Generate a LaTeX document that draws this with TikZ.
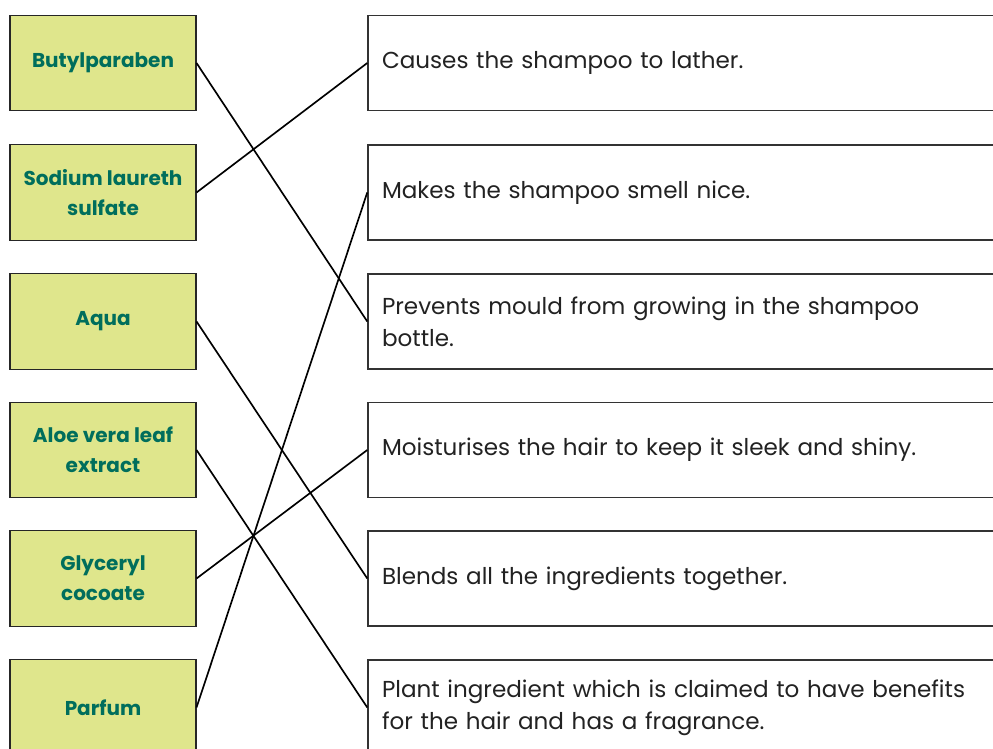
\documentclass[tikz,border=0pt]{standalone}
\usepackage{fontspec}
\setmainfont{Poppins}
\definecolor{lfill}{RGB}{223,230,140}
\definecolor{ltext}{RGB}{0,110,92}
\definecolor{rtext}{RGB}{34,34,34}
\begin{document}
\begin{tikzpicture}[x=0.75pt,y=-0.75pt,
  lbox/.style={draw=black!85, line width=0.8pt, fill=lfill, rectangle,
    minimum width=139.5pt, minimum height=71.5pt, inner sep=2pt,
    text=ltext, align=center, font=\fontsize{15}{22.5}\selectfont\bfseries},
  rbox/.style={draw=black!80, line width=1.1pt, fill=white, rectangle,
    minimum width=474pt, minimum height=71.5pt, inner xsep=10.5pt,
    text width=453pt, align=left, text=rtext,
    font=\fontsize{17.3}{24}\selectfont},
  link/.style={draw=black, line width=1.25pt}]
\useasboundingbox (0,0) rectangle (993,749);
\clip (0,0) rectangle (993,749);
\node[lbox] (l1) at (103,63) {Butylparaben};
\node[lbox] (l2) at (103,192.5) {Sodium laureth\\sulfate};
\node[lbox] (l3) at (103,321.5) {Aqua};
\node[lbox] (l4) at (103,450) {Aloe vera leaf\\extract};
\node[lbox] (l5) at (103,578.5) {Glyceryl\\cocoate};
\node[lbox] (l6) at (103,707.5) {Parfum};
\node[rbox] (r1) at (684,63) {Causes the shampoo to lather.};
\node[rbox] (r2) at (684,192.5) {Makes the shampoo smell nice.};
\node[rbox] (r3) at (684,321.5) {Prevents mould from growing in the shampoo\\bottle.};
\node[rbox] (r4) at (684,450) {Moisturises the hair to keep it sleek and shiny.};
\node[rbox] (r5) at (684,578.5) {Blends all the ingredients together.};
\node[rbox] (r6) at (684,707.5) {Plant ingredient which is claimed to have benefits\\for the hair and has a fragrance.};
\draw[link] (l1.east) -- (r3.west);
\draw[link] (l2.east) -- (r1.west);
\draw[link] (l3.east) -- (r5.west);
\draw[link] (l4.east) -- (r6.west);
\draw[link] (l5.east) -- (r4.west);
\draw[link] (l6.east) -- (r2.west);
\end{tikzpicture}
\end{document}
